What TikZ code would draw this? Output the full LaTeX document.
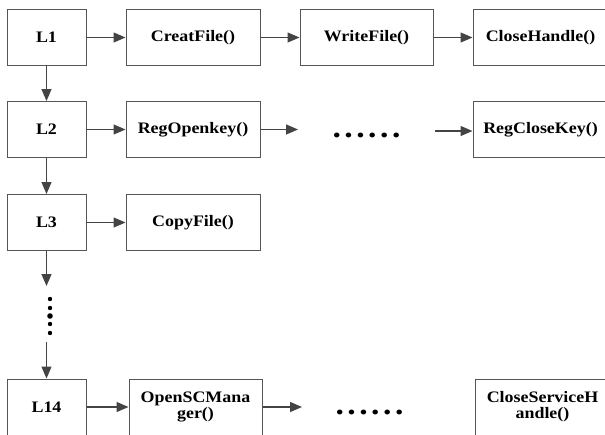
\documentclass[tikz,border=0pt]{standalone}
\usepackage{fontspec}
\setmainfont[FakeStretch=1.12]{Liberation Serif}
\usepackage{xcolor}
\usetikzlibrary{arrows.meta}
\definecolor{edgegray}{HTML}{555555}
\definecolor{arrowgray}{HTML}{444444}
\newcommand{\dotrow}{\fontsize{30}{30}\selectfont
  .\hspace{3.5pt}.\hspace{3.5pt}.\hspace{3.5pt}.\hspace{3.5pt}.\hspace{3.5pt}.}

\begin{document}
\begin{tikzpicture}[x=1pt, y=-1pt,
  every node/.style={font=\bfseries\fontsize{16}{16}\selectfont},
  lbox/.style={draw=edgegray, line width=1pt, minimum width=79pt,
               minimum height=56pt, inner sep=1pt, align=center},
  fbox/.style={lbox, minimum width=134pt},
  arr/.style={-{Triangle[length=12pt,width=10pt]}, line width=1.3pt,
              draw=arrowgray}
]
\useasboundingbox (0,0) rectangle (605,434);
\clip (0,0) rectangle (605,434);

\node[lbox] (l1) at (46.5,37.5) {L1};
\node[fbox] (creat) at (193,37.5) {CreatFile()};
\node[fbox, minimum width=133pt] (write) at (366.5,37.5) {WriteFile()};
\node[fbox, minimum width=135pt] (closeh) at (540.5,37.5) {CloseHandle()};

\node[lbox] (l2) at (46.5,129.5) {L2};
\node[fbox] (regopen) at (193,129.5) {RegOpenkey()};
\node (dotsb) at (366.5,135) {\dotrow};
\node[fbox, minimum width=135pt] (regclose) at (540.5,129.5) {RegCloseKey()};

\node[lbox] (l3) at (46.5,222.5) {L3};
\node[fbox] (copy) at (193,222.5) {CopyFile()};

\node[lbox] (l14) at (46.5,407) {L14};
\node[fbox, minimum width=133pt] (opensc) at (195.5,407) {OpenSCMana\\ger()};
\node (dotsd) at (369.5,412) {\dotrow};
\node[fbox, minimum width=135pt] (closesvc) at (542.5,407) {CloseServiceH\\andle()};

% free ends
\coordinate (regout) at (298,129.5);
\coordinate (regin) at (435,131);
\coordinate (l3out) at (46.5,286);
\coordinate (l14in) at (46.5,342);
\coordinate (openout) at (302,407);

\draw[arr] (l1) -- (creat);
\draw[arr] (creat) -- (write);
\draw[arr] (write) -- (closeh);
\draw[arr] (l2) -- (regopen);
\draw[arr] (regopen) -- (regout);
\draw[arr] (regin) -- (regin -| regclose.west);
\draw[arr] (l3) -- (copy);
\draw[arr] (l14) -- (opensc);
\draw[arr] (opensc) -- (openout);

\draw[arr] (l1) -- (l2);
\draw[arr] (l2) -- (l3);
\draw[arr] (l3) -- (l3out);
\draw[arr] (l14in) -- (l14);

\foreach \y/\r in {299/2.2, 308/2.2, 316/2.8, 324/2.2, 333/2.2}
  \fill[black] (50,\y) circle (\r pt);
\end{tikzpicture}
\end{document}
